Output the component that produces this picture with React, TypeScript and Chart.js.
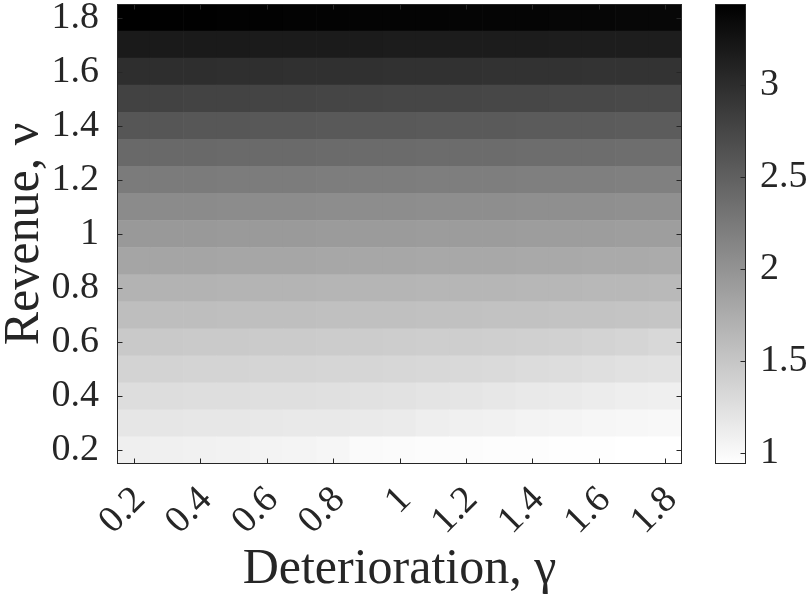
import React, { useEffect, useRef } from 'react';
import { Chart, registerables } from 'chart.js';

Chart.register(...registerables);

// Deterioration (x) and revenue (y) grid values
const GAMMA = [0.2, 0.3, 0.4, 0.5, 0.6, 0.7, 0.8, 0.9, 1.0, 1.1, 1.2, 1.3, 1.4, 1.5, 1.6, 1.7, 1.8];
const NU = [0.2, 0.3, 0.4, 0.5, 0.6, 0.7, 0.8, 0.9, 1.0, 1.1, 1.2, 1.3, 1.4, 1.5, 1.6, 1.7, 1.8];

const X_TICKS = [0.2, 0.4, 0.6, 0.8, 1.0, 1.2, 1.4, 1.6, 1.8];
const Y_STEP = 0.2;
const CB_STEP = 0.5;

const X_LABEL = 'Deterioration, γ';
const Y_LABEL = 'Revenue, ν';

// cell values, one row per revenue level (bottom to top), columns follow GAMMA
const ROW_0_2 = [1.098, 1.088, 1.078, 1.068, 1.059, 1.049, 1.029, 0.990, 0.980, 0.970, 0.970, 0.960, 0.960, 0.951, 0.951, 0.941, 0.941];
const ROW_0_3 = [1.186, 1.186, 1.176, 1.176, 1.166, 1.157, 1.157, 1.147, 1.137, 1.108, 1.088, 1.078, 1.059, 1.049, 1.029, 1.019, 1.010];
const ROW_0_4 = [1.274, 1.274, 1.264, 1.264, 1.255, 1.255, 1.245, 1.235, 1.225, 1.206, 1.196, 1.176, 1.157, 1.147, 1.127, 1.108, 1.098];
const ROW_0_5 = [1.372, 1.372, 1.362, 1.362, 1.353, 1.353, 1.343, 1.343, 1.333, 1.323, 1.313, 1.304, 1.284, 1.274, 1.255, 1.235, 1.225];
const ROW_0_6 = [1.470, 1.470, 1.460, 1.460, 1.451, 1.451, 1.441, 1.441, 1.431, 1.421, 1.421, 1.411, 1.402, 1.392, 1.372, 1.353, 1.323];
const ROW_0_7 = [1.578, 1.578, 1.578, 1.568, 1.568, 1.568, 1.558, 1.558, 1.558, 1.549, 1.549, 1.539, 1.539, 1.529, 1.529, 1.519, 1.509];
const ROW_0_8 = [1.686, 1.686, 1.686, 1.676, 1.676, 1.676, 1.666, 1.666, 1.666, 1.656, 1.656, 1.656, 1.647, 1.647, 1.637, 1.637, 1.627];
const ROW_0_9 = [1.823, 1.823, 1.823, 1.813, 1.813, 1.813, 1.803, 1.803, 1.803, 1.794, 1.794, 1.794, 1.784, 1.784, 1.774, 1.774, 1.764];
const ROW_1_0 = [1.941, 1.941, 1.941, 1.931, 1.931, 1.931, 1.921, 1.921, 1.921, 1.911, 1.911, 1.911, 1.901, 1.901, 1.901, 1.892, 1.892];
const ROW_1_1 = [2.078, 2.078, 2.078, 2.068, 2.068, 2.068, 2.058, 2.058, 2.058, 2.048, 2.048, 2.048, 2.039, 2.039, 2.039, 2.029, 2.029];
const ROW_1_2 = [2.235, 2.235, 2.235, 2.225, 2.225, 2.225, 2.215, 2.215, 2.215, 2.205, 2.205, 2.205, 2.196, 2.196, 2.196, 2.186, 2.186];
const ROW_1_3 = [2.411, 2.411, 2.411, 2.401, 2.401, 2.401, 2.391, 2.391, 2.391, 2.382, 2.382, 2.382, 2.372, 2.372, 2.372, 2.362, 2.362];
const ROW_1_4 = [2.597, 2.597, 2.587, 2.587, 2.578, 2.578, 2.568, 2.568, 2.568, 2.558, 2.558, 2.558, 2.548, 2.548, 2.548, 2.538, 2.538];
const ROW_1_5 = [2.793, 2.793, 2.783, 2.783, 2.774, 2.774, 2.764, 2.764, 2.754, 2.754, 2.754, 2.744, 2.744, 2.734, 2.734, 2.725, 2.725];
const ROW_1_6 = [2.989, 2.989, 2.989, 2.979, 2.979, 2.970, 2.970, 2.970, 2.960, 2.960, 2.960, 2.950, 2.950, 2.950, 2.940, 2.940, 2.940];
const ROW_1_7 = [3.185, 3.185, 3.185, 3.185, 3.175, 3.175, 3.175, 3.175, 3.166, 3.166, 3.166, 3.166, 3.166, 3.156, 3.156, 3.156, 3.156];
const ROW_1_8 = [3.440, 3.430, 3.430, 3.420, 3.420, 3.410, 3.410, 3.400, 3.400, 3.400, 3.390, 3.390, 3.390, 3.380, 3.380, 3.370, 3.370];

const Z = [ROW_0_2, ROW_0_3, ROW_0_4, ROW_0_5, ROW_0_6, ROW_0_7, ROW_0_8, ROW_0_9, ROW_1_0,
  ROW_1_1, ROW_1_2, ROW_1_3, ROW_1_4, ROW_1_5, ROW_1_6, ROW_1_7, ROW_1_8];

const VMIN = Math.min(...Z.flat());
const VMAX = Math.max(...Z.flat());
const HALF_NU = (NU[1] - NU[0]) / 2;

const AXIS_COLOR = '#262626';
const FONT = "'Liberation Serif', 'Times New Roman', serif";
const TICK_LEN = 5;

function grayOf(v: number): string {
  const t = (VMAX - v) / (VMAX - VMIN);
  const g = Math.max(0, Math.min(255, Math.round(255 * t)));
  return `rgb(${g},${g},${g})`;
}

function fmt(v: number): string {
  return Number(Number(v).toFixed(1)).toString();
}

function noPad(s: any) {
  s.paddingTop = 0;
  s.paddingBottom = 0;
  s.paddingLeft = 0;
  s.paddingRight = 0;
}

const framePlugin = {
  id: 'heatFrame',
  afterDraw(chart: any) {
    const { ctx, chartArea: a, scales } = chart;
    const xs = scales.x;
    const ys = scales.y;
    const cb = scales.cb;
    ctx.save();
    ctx.strokeStyle = AXIS_COLOR;
    ctx.lineWidth = 1;
    const L = Math.round(a.left) + 0.5;
    const R = Math.round(a.right) - 0.5;
    const T = Math.round(a.top) + 0.5;
    const B = Math.round(a.bottom) - 0.5;
    ctx.strokeRect(L, T, R - L, B - T);
    ctx.beginPath();
    GAMMA.forEach((g, i) => {
      if (!X_TICKS.includes(g)) return;
      const px = Math.round(xs.getPixelForValue(i)) + 0.5;
      ctx.moveTo(px, B);
      ctx.lineTo(px, B - TICK_LEN);
      ctx.moveTo(px, T);
      ctx.lineTo(px, T + TICK_LEN);
    });
    ys.ticks.forEach((t: any) => {
      const py = Math.round(ys.getPixelForValue(t.value)) + 0.5;
      ctx.moveTo(L, py);
      ctx.lineTo(L + TICK_LEN, py);
      ctx.moveTo(R, py);
      ctx.lineTo(R - TICK_LEN, py);
    });
    ctx.stroke();

    // colour bar
    const cbLeft = Math.round(a.right) + 33;
    const cbWidth = 31;
    const top = cb.getPixelForValue(cb.max);
    const bottom = cb.getPixelForValue(cb.min);
    const grad = ctx.createLinearGradient(0, bottom, 0, top);
    grad.addColorStop(0, grayOf(VMIN));
    grad.addColorStop(1, grayOf(VMAX));
    ctx.fillStyle = grad;
    ctx.fillRect(cbLeft, top, cbWidth, bottom - top);
    ctx.strokeRect(cbLeft + 0.5, Math.round(top) + 0.5, cbWidth - 1, Math.round(bottom - top) - 1);
    ctx.beginPath();
    cb.ticks.forEach((t: any) => {
      const py = Math.round(cb.getPixelForValue(t.value)) + 0.5;
      ctx.moveTo(cbLeft + cbWidth - 0.5, py);
      ctx.lineTo(cbLeft + cbWidth - 0.5 - TICK_LEN, py);
    });
    ctx.stroke();
    ctx.restore();
  },
};

export default function App() {
  const canvasRef = useRef<HTMLCanvasElement | null>(null);

  useEffect(() => {
    document.body.style.margin = '0';
    const canvas = canvasRef.current;
    if (!canvas) return;
    const chart = new Chart(canvas, {
      type: 'bar',
      data: {
        labels: GAMMA.map(fmt),
        datasets: NU.map((nu, r) => ({
          label: `ν = ${fmt(nu)}`,
          data: GAMMA.map(() => [nu - HALF_NU, nu + HALF_NU]),
          backgroundColor: Z[r].map(grayOf),
          borderWidth: 0,
          barPercentage: 1,
          categoryPercentage: 1,
          grouped: false,
          xAxisID: 'x',
          yAxisID: 'y',
        })) as any,
      },
      options: {
        responsive: false,
        animation: false,
        devicePixelRatio: 1,
        layout: { autoPadding: false, padding: { top: 4, left: 0, right: 0, bottom: 0 } },
        plugins: {
          legend: { display: false },
          tooltip: { enabled: false },
        },
        scales: {
          x: {
            type: 'category',
            offset: true,
            grid: { display: false },
            border: { display: false },
            ticks: {
              autoSkip: false,
              minRotation: 45,
              maxRotation: 45,
              padding: 6,
              labelOffset: 6,
              color: AXIS_COLOR,
              font: { family: FONT, size: 38 },
              callback: (_v: any, i: number) => (X_TICKS.includes(GAMMA[i]) ? fmt(GAMMA[i]) : ''),
            },
            title: {
              display: true,
              text: X_LABEL,
              color: AXIS_COLOR,
              font: { family: FONT, size: 50, lineHeight: 1.2 },
              padding: { top: 0, bottom: 0 },
            },
            afterFit: (s: any) => { s.height = 136; noPad(s); },
          },
          y: {
            type: 'linear',
            min: 0.15,
            max: 1.85,
            grid: { display: false },
            border: { display: false },
            ticks: {
              autoSkip: false,
              stepSize: Y_STEP,
              includeBounds: false,
              padding: 10,
              color: AXIS_COLOR,
              font: { family: FONT, size: 38 },
              callback: (v: any) => fmt(v),
            },
            title: {
              display: true,
              text: Y_LABEL,
              color: AXIS_COLOR,
              font: { family: FONT, size: 50, lineHeight: 1.0 },
              padding: 0,
            },
            afterFit: (s: any) => { s.width = 117; noPad(s); },
          },
          cb: {
            type: 'linear',
            axis: 'y',
            position: 'right',
            min: VMIN,
            max: VMAX,
            grid: { display: false },
            border: { display: false },
            ticks: {
              autoSkip: false,
              stepSize: CB_STEP,
              includeBounds: false,
              padding: 70,
              color: AXIS_COLOR,
              font: { family: FONT, size: 38 },
              callback: (v: any) => fmt(v),
            },
            afterFit: (s: any) => { s.width = 124; noPad(s); },
          },
        } as any,
      },
      plugins: [framePlugin],
    });
    return () => chart.destroy();
  }, []);

  return (
    <div style={{ position: 'relative', width: 806, height: 600, background: '#fff' }}>
      <canvas ref={canvasRef} width={806} height={600} style={{ display: 'block' }} />
    </div>
  );
}
